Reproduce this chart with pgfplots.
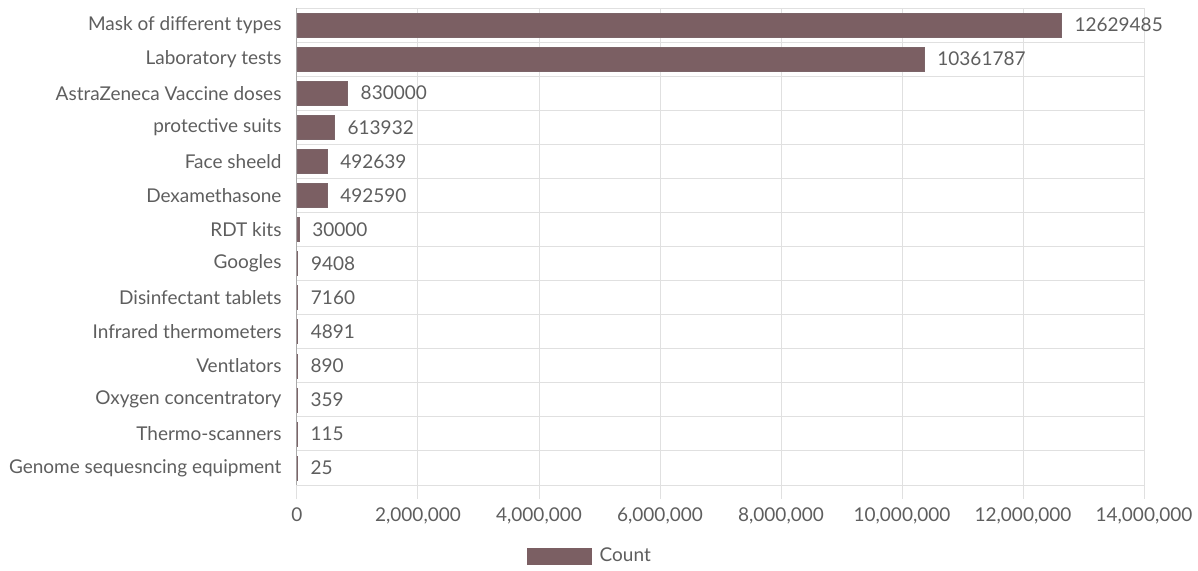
\documentclass[border=0pt]{standalone}
\usepackage{pgfplots}
\pgfplotsset{compat=1.18}
\usepackage{pgfplotstable}
\usepackage{fontspec}
\setmainfont{Lato}
\definecolor{barcol}{HTML}{7B5F63}
\definecolor{txt}{HTML}{5E5E5E}
\definecolor{gridc}{HTML}{E0E0E0}
\definecolor{axc}{HTML}{AAAAAA}
\pgfplotstableread[col sep=comma]{
y,v,lab
0,12629485,12629485
1,10361787,10361787
2,830000,830000
3,613932,613932
4,492639,492639
5,492590,492590
6,30000,30000
7,9408,9408
8,7160,7160
9,4891,4891
10,890,890
11,359,359
12,115,115
13,25,25
}\data
\begin{document}
\begin{tikzpicture}
\fontsize{19}{22}\selectfont
\begin{axis}[
  at={(0,0)}, anchor=south west,
  scale only axis, width=847pt, height=477pt,
  xbar, bar width=24pt,
  xmin=0, xmax=14000000,
  ymin=-0.5, ymax=13.5, y dir=reverse,
  ytick={0,...,13},
  yticklabels={Mask of different types,Laboratory tests,AstraZeneca Vaccine doses,protective suits,Face sheeld,Dexamethasone,RDT kits,Googles,Disinfectant tablets,Infrared thermometers,Ventlators,Oxygen concentratory,Thermo-scanners,Genome sequesncing equipment},
  major y tick style={draw=none},
  extra y ticks={-0.5,0.5,...,13.5},
  extra y tick labels={},
  extra y tick style={grid=major, major grid style={gridc, line width=1pt}, major tick length=28pt, tick style={gridc, line width=1pt}},
  xtick={0,2000000,...,14000000},
  scaled x ticks=false,
  /pgf/number format/fixed,
  /pgf/number format/1000 sep={,},
  /pgf/number format/assume math mode=true,
  xmajorgrids, major grid style={gridc, line width=1pt},
  x tick style={gridc, line width=1pt},
  major tick length=14pt,
  tick align=outside,
  xtick pos=bottom, ytick pos=left,
  axis line style={draw=none},
  tick label style={text=txt, font=\fontsize{19}{22}\selectfont},
  yticklabel style={xshift=5pt},
  xticklabel style={yshift=-2pt},
  extra x ticks={0}, extra x tick labels={},
  extra x tick style={grid=major, major grid style={axc, line width=1pt}, tick style={axc, line width=1pt}},
  nodes near coords,
  point meta=explicit symbolic,
  every node near coord/.append style={anchor=west, xshift=7pt, text=txt, font=\fontsize{19}{22}\selectfont},
  legend style={at={(0.346,-0.149)}, anchor=center, draw=none, fill=none, text=txt, font=\fontsize{19}{22}\selectfont},
  legend image code/.code={\fill[barcol] (0pt,-8pt) rectangle (64pt,8pt);},
  clip=false,
]
\addplot[fill=barcol, draw=barcol!80!gray] table[x=v, y=y, meta=lab]{\data};
\addlegendentry{\hspace{6pt}Count}
\end{axis}
\pgfresetboundingbox
\path (-297pt,-85pt) rectangle (901pt,485pt);
\end{tikzpicture}
\end{document}
